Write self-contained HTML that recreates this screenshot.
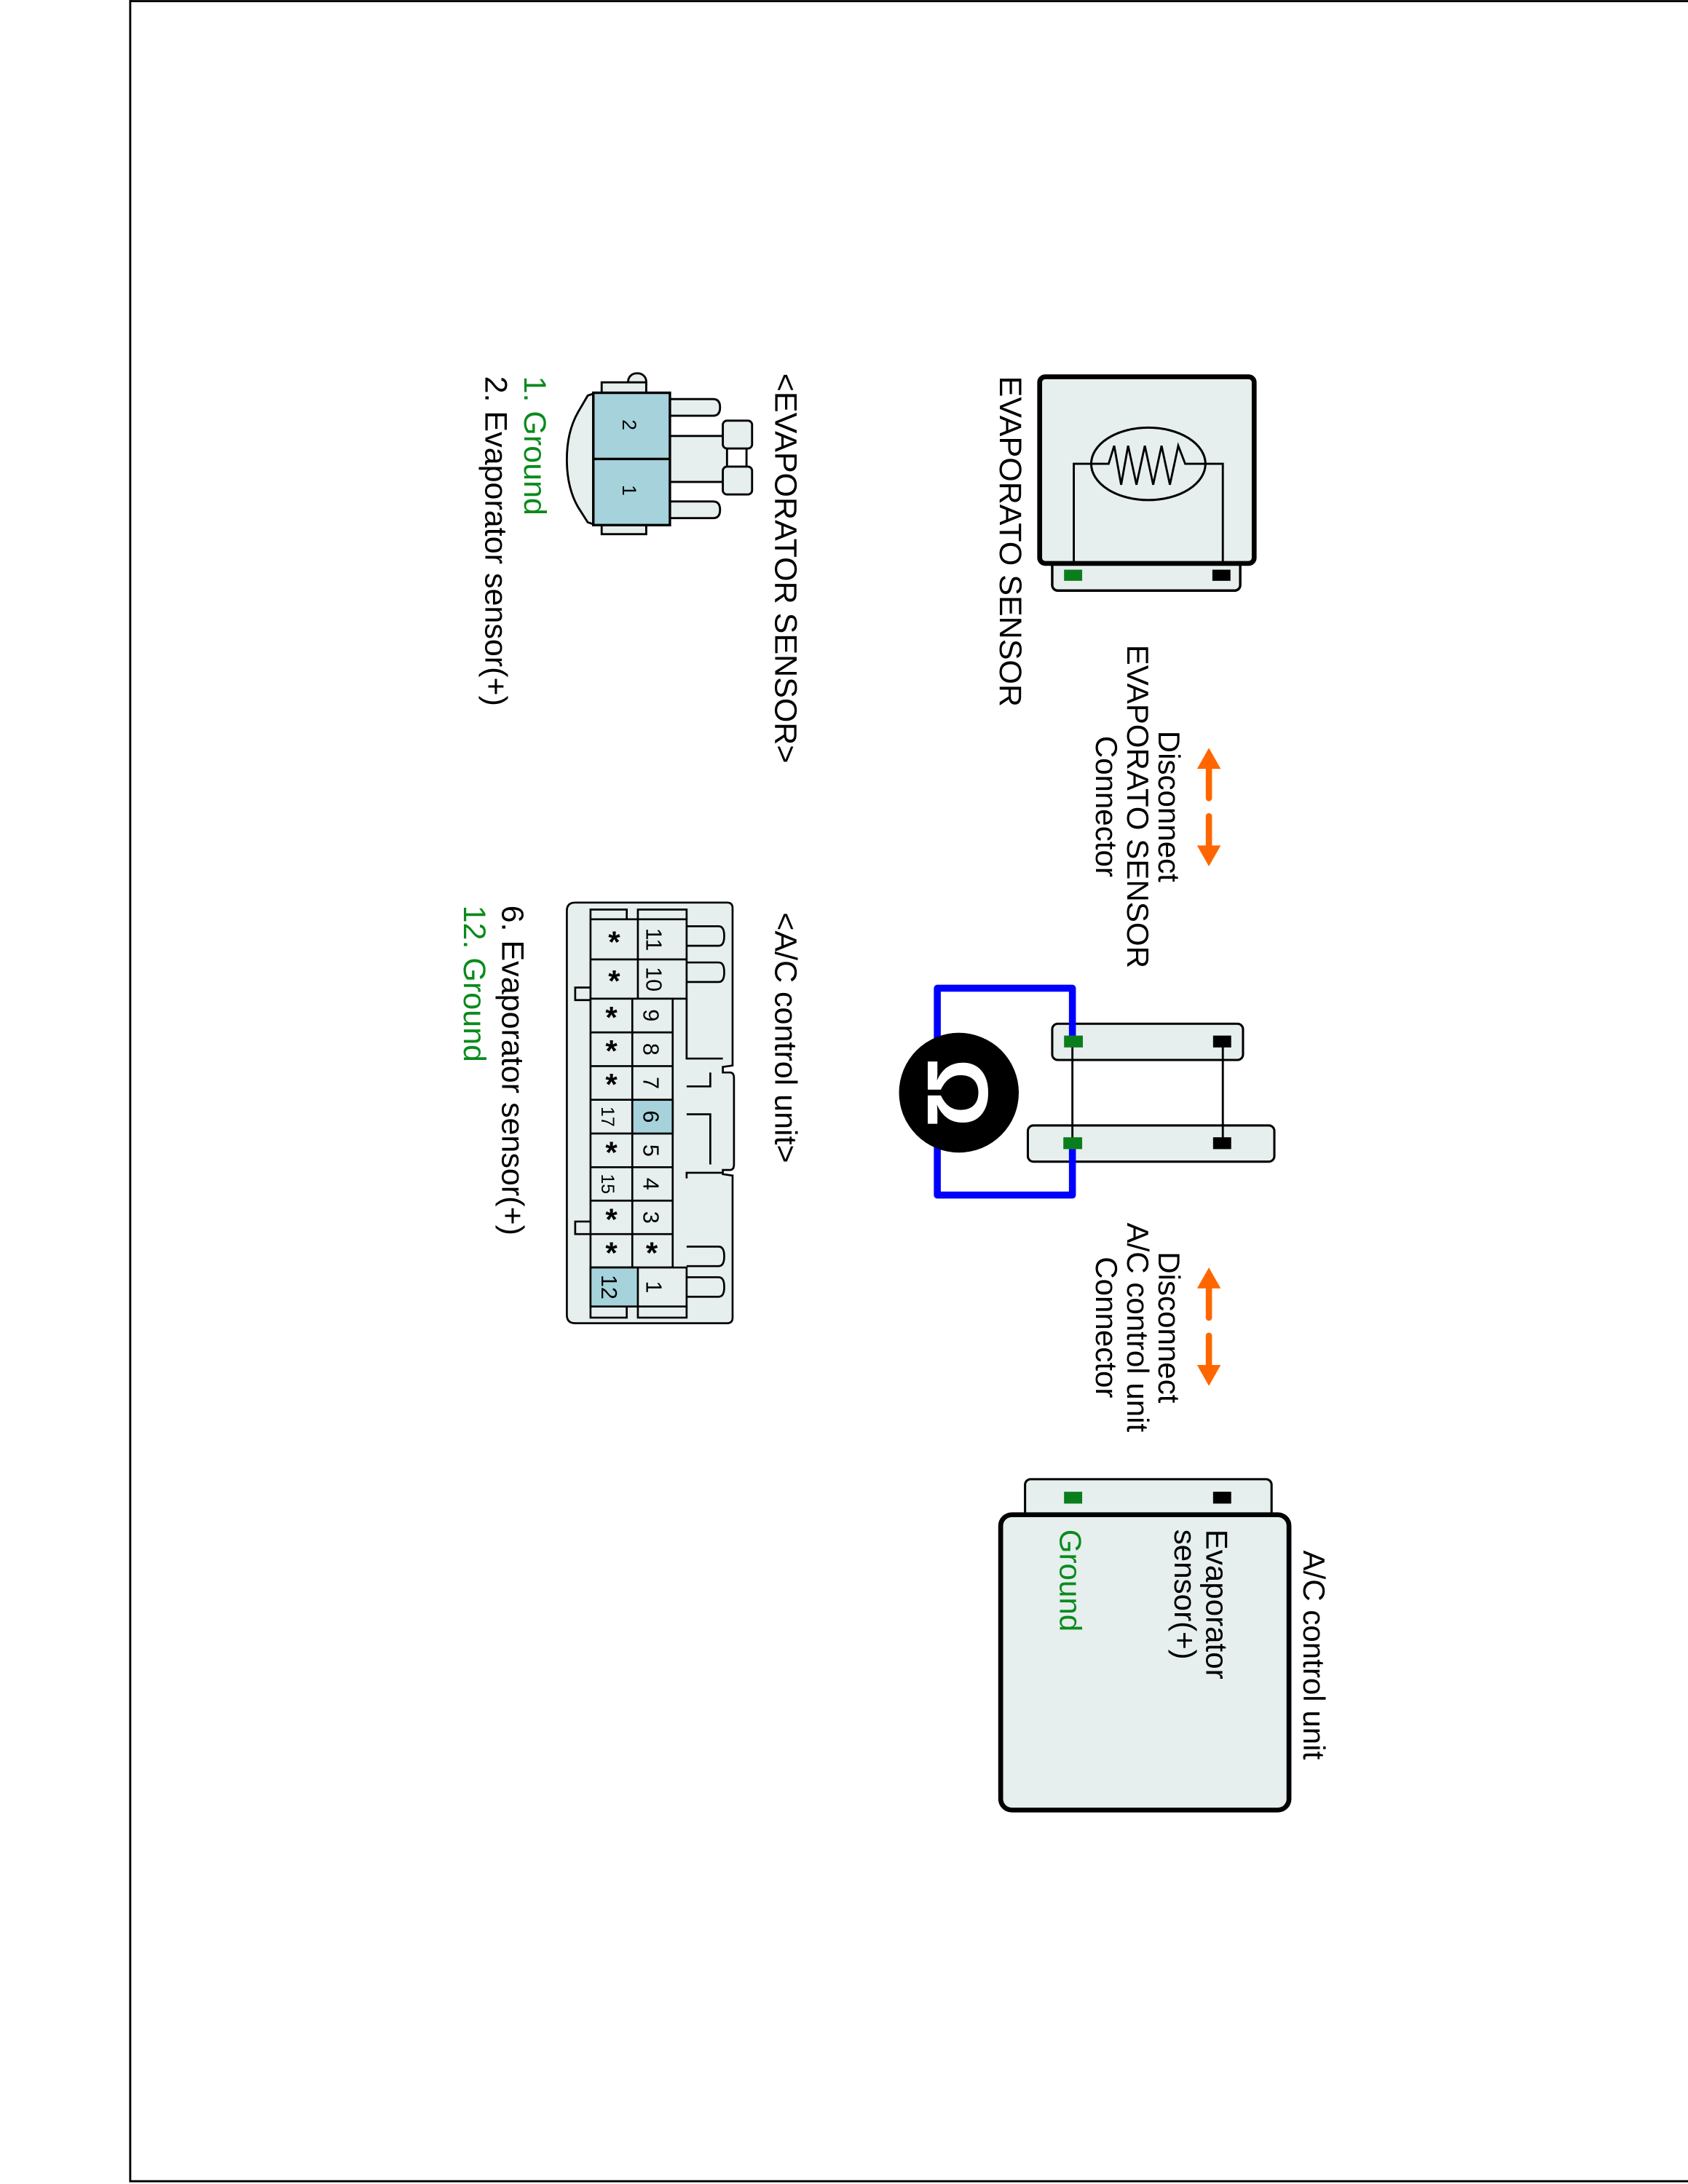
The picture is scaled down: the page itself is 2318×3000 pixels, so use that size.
<!DOCTYPE html>
<html><head><meta charset="utf-8"><style>
html,body{margin:0;padding:0;background:#fff}
svg{display:block}
text{font-family:"Liberation Sans",Arial,sans-serif}
</style></head><body>
<svg width="2318" height="3000" viewBox="0 0 1212 1568" preserveAspectRatio="none" xmlns="http://www.w3.org/2000/svg">
<rect x="0" y="0" width="1212" height="1568" fill="#fff"/>
<path d="M93.5,0 V1566 H1212 M93.5,0.8 H1212" fill="none" stroke="#000" stroke-width="1.5"/>

<!-- EVAPORATO SENSOR component -->
<rect x="755.5" y="400" width="135" height="24" rx="4" fill="#e6eeee" stroke="#000" stroke-width="1.8"/>
<rect x="764" y="409" width="13" height="8" fill="#0a7d1c"/>
<rect x="870.5" y="409" width="13" height="8" fill="#000"/>
<rect x="746.5" y="270.5" width="154" height="134" rx="4" fill="#e6eeee" stroke="#000" stroke-width="3.5"/>
<path d="M771,403 V333 H796 L800,320 L805,348 L810,320 L816,348 L822,320 L828,348 L834,320 L840,348 L846,320 L851,333 H878 V403" fill="none" stroke="#000" stroke-width="1.5"/>
<ellipse cx="824.5" cy="333" rx="41" ry="26" fill="none" stroke="#000" stroke-width="1.6"/>
<text transform="translate(718,270) rotate(90)" font-size="22.5">EVAPORATO SENSOR</text>

<!-- arrows -->
<g fill="#ff6600" stroke="#ff6600">
<path d="M868,537 L876.5,552 L859.5,552 Z" stroke="none"/>
<line x1="868" y1="550" x2="868" y2="573" stroke-width="4.5" stroke-linecap="round"/>
<line x1="868" y1="586" x2="868" y2="609" stroke-width="4.5" stroke-linecap="round"/>
<path d="M868,622 L876.5,607 L859.5,607 Z" stroke="none"/>
<path d="M868,910 L876.5,925 L859.5,925 Z" stroke="none"/>
<line x1="868" y1="923" x2="868" y2="946" stroke-width="4.5" stroke-linecap="round"/>
<line x1="868" y1="959" x2="868" y2="982" stroke-width="4.5" stroke-linecap="round"/>
<path d="M868,995 L876.5,980 L859.5,980 Z" stroke="none"/>
</g>
<g font-size="22" text-anchor="middle">
<text transform="translate(832,579) rotate(90)">Disconnect</text>
<text transform="translate(809.5,579) rotate(90)">EVAPORATO SENSOR</text>
<text transform="translate(787,579) rotate(90)">Connector</text>
<text transform="translate(832,953) rotate(90)">Disconnect</text>
<text transform="translate(809.5,953) rotate(90)">A/C control unit</text>
<text transform="translate(787,953) rotate(90)">Connector</text>
</g>

<!-- middle test connectors -->
<rect x="755.5" y="735" width="137" height="26" rx="4" fill="#e6eeee" stroke="#000" stroke-width="1.6"/>
<rect x="738" y="808" width="177" height="26" rx="4" fill="#e6eeee" stroke="#000" stroke-width="1.6"/>
<line x1="770" y1="748" x2="770" y2="821" stroke="#000" stroke-width="1.5"/>
<line x1="878" y1="748" x2="878" y2="821" stroke="#000" stroke-width="1.5"/>
<path d="M770,744 V709.5 H673 V858 H770 V825" fill="none" stroke="#0000ff" stroke-width="5" stroke-linejoin="round"/>
<rect x="764" y="743.5" width="13.5" height="8.5" fill="#0a7d1c"/>
<rect x="763.5" y="816.5" width="13.5" height="8.5" fill="#0a7d1c"/>
<rect x="871" y="743.5" width="13" height="8.5" fill="#000"/>
<rect x="871" y="816.5" width="13" height="8.5" fill="#000"/>
<circle cx="688.5" cy="784.5" r="43" fill="#000"/>
<text transform="translate(666,784.5) rotate(90)" font-size="62" font-weight="bold" fill="#fff" text-anchor="middle">Ω</text>

<!-- A/C control unit component -->
<rect x="736" y="1062" width="177" height="28" rx="4" fill="#e6eeee" stroke="#000" stroke-width="1.6"/>
<rect x="764" y="1071" width="13" height="8.5" fill="#0a7d1c"/>
<rect x="871" y="1071" width="13" height="8.5" fill="#000"/>
<rect x="718.5" y="1087.5" width="207" height="212" rx="8" fill="#e6eeee" stroke="#000" stroke-width="3.5"/>
<text transform="translate(936,1113) rotate(90)" font-size="22">A/C control unit</text>
<text transform="translate(866,1098) rotate(90)" font-size="22">Evaporator</text>
<text transform="translate(843.5,1098) rotate(90)" font-size="22">sensor(+)</text>
<text transform="translate(761,1098) rotate(90)" font-size="22" fill="#0a8a1c">Ground</text>

<!-- EVAPORATOR SENSOR connector view -->
<text transform="translate(556.5,268) rotate(90)" font-size="22.5">&lt;EVAPORATOR SENSOR&gt;</text>
<text transform="translate(376.5,270) rotate(90)" font-size="22.5" fill="#0a8a1c">1. Ground</text>
<text transform="translate(348.5,270) rotate(90)" font-size="22.5">2. Evaporator sensor(+)</text>
<g stroke="#000" stroke-width="1.5" fill="#e6eeee">
<rect x="451" y="268" width="13" height="14" rx="6"/>
<rect x="432" y="274.5" width="32" height="8"/>
<rect x="432" y="377" width="32" height="6.5"/>
<path d="M478,286.5 H512 Q517,286.5 517,292.5 Q517,298.5 512,298.5 H478 Z"/>
<path d="M478,360 H512 Q517,360 517,366 Q517,372 512,372 H478 Z"/>
<rect x="478" y="313" width="44" height="33"/>
<rect x="519" y="302" width="21" height="20" rx="3"/>
<rect x="519" y="335" width="21" height="20" rx="3"/>
<line x1="536" y1="322" x2="536" y2="335"/>
<path d="M428,282 L422,284 L415,296 Q407,310 407,330 Q407,350 415,364 L422,375 L428,377 Z"/>
<rect x="426" y="282" width="55" height="95" fill="#a6d2dc" stroke-width="1.8"/>
<line x1="426" y1="329.5" x2="481" y2="329.5" stroke-width="1.8"/>
</g>
<text transform="translate(447,305) rotate(90)" font-size="14" text-anchor="middle">2</text>
<text transform="translate(447,352) rotate(90)" font-size="14" text-anchor="middle">1</text>

<!-- A/C control unit connector view -->
<text transform="translate(556.5,655) rotate(90)" font-size="22.5">&lt;A/C control unit&gt;</text>
<text transform="translate(360.5,650) rotate(90)" font-size="22.5">6. Evaporator sensor(+)</text>
<text transform="translate(333,650) rotate(90)" font-size="22.5" fill="#0a8a1c">12. Ground</text>
<g stroke="#000" stroke-width="1.4" fill="#e6eeee">
<path d="M413,648 H522 Q526,648 526,652 V765 L519,766 V770 H524 Q527,770 527,774 V836 Q527,840 524,840 H519 V843 L526,844 V946 Q526,950 522,950 H413 Q407,950 407,944 V654 Q407,648 413,648 Z"/>
<path d="M493,665 H516 Q520,665 520,672 Q520,679 516,679 H493"/>
<path d="M493,691 H516 Q520,691 520,698 Q520,705 516,705 H493"/>
<path d="M493,895 H516 Q520,895 520,902 Q520,909 516,909 H493"/>
<path d="M493,917 H516 Q520,917 520,924 Q520,931 516,931 H493"/>
<path d="M493,717 V760 H519 M493,846 V842 H519" fill="none"/>
<path d="M493,780 H510 V770 M493,800 H510 V836" fill="none"/>
<path d="M424,709 H413 V718 H424 M424,877 H413 V886 H424"/>
<path d="M424,660 V653 H450 V660 M458,660 V653 H493 V660"/>
<path d="M424,938 V946 H450 V938 M458,938 V946 H493 V938"/>
<rect x="424" y="660" width="69" height="57"/>
<line x1="458" y1="660" x2="458" y2="717"/>
<line x1="424" y1="688.8" x2="493" y2="688.8"/>
<rect x="424" y="717" width="59" height="193"/>
<line x1="454" y1="717" x2="454" y2="910"/>
<line x1="424" y1="741.2" x2="483" y2="741.2"/>
<line x1="424" y1="765.4" x2="483" y2="765.4"/>
<line x1="424" y1="789.6" x2="483" y2="789.6"/>
<line x1="424" y1="813.8" x2="483" y2="813.8"/>
<line x1="424" y1="838" x2="483" y2="838"/>
<line x1="424" y1="862" x2="483" y2="862"/>
<line x1="424" y1="886" x2="483" y2="886"/>
<rect x="454" y="789.6" width="29" height="24.2" fill="#a6d2dc"/>
<rect x="424" y="910" width="69" height="28"/>
<rect x="424" y="910" width="34" height="28" fill="#a6d2dc"/>
</g>
<g font-size="16" text-anchor="middle">
<text transform="translate(464,674.5) rotate(90)">11</text>
<text transform="translate(464,703) rotate(90)">10</text>
<text transform="translate(462,729) rotate(90)">9</text>
<text transform="translate(462,753.3) rotate(90)">8</text>
<text transform="translate(462,777.5) rotate(90)">7</text>
<text transform="translate(462,801.7) rotate(90)">6</text>
<text transform="translate(462,826) rotate(90)">5</text>
<text transform="translate(462,850) rotate(90)">4</text>
<text transform="translate(462,874) rotate(90)">3</text>
<text transform="translate(464,924) rotate(90)">1</text>
<text transform="translate(432,801.7) rotate(90)" font-size="13">17</text>
<text transform="translate(432,850) rotate(90)" font-size="13">15</text>
<text transform="translate(432,924) rotate(90)">12</text>
</g>
<g font-size="22" font-weight="bold" text-anchor="middle">
<text x="441" y="684">*</text>
<text x="441" y="712">*</text>
<text x="439" y="738">*</text>
<text x="439" y="762">*</text>
<text x="439" y="786">*</text>
<text x="439" y="835">*</text>
<text x="439" y="883">*</text>
<text x="439" y="907">*</text>
<text x="468" y="907">*</text>
</g>
</svg>
</body></html>
